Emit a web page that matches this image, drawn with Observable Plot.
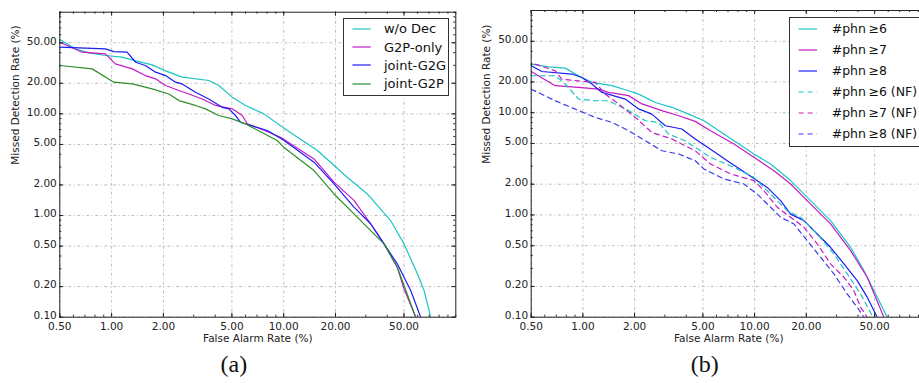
<!DOCTYPE html>
<html>
<head>
<meta charset="utf-8">
<script src="https://cdn.jsdelivr.net/npm/d3@7"></script>
<script src="https://cdn.jsdelivr.net/npm/@observablehq/plot@0.6"></script>
<style>
  html, body { margin: 0; padding: 0; background: #fff; }
  #wrap { position: relative; width: 919px; height: 383px; overflow: hidden; background: #fff; font-family: "DejaVu Sans", sans-serif; }
  .panel { position: absolute; top: 0; }
  .legend { position: absolute; background: #fff; border: 1px solid #333; box-sizing: border-box; color: #111; }
  .legend .row { position: absolute; left: 0; height: 20px; display: flex; align-items: center; white-space: nowrap; }
  .legend svg { position: absolute; top: 0; }
</style>
</head>
<body>
<div id="wrap"></div>
<script>
// ---------- tick values ----------
const xTicks = [0.5, 1, 2, 5, 10, 20, 50];
const yTicks = [0.1, 0.2, 0.5, 1, 2, 5, 10, 20, 50];

// ---------- panel (a) ----------
const seriesA = ["w/o Dec", "G2P-only", "joint-G2G", "joint-G2P"];
const woDecFA = [0.5, 0.617, 0.737, 0.922, 1.15, 1.44, 1.72, 2.06, 2.57, 3.67, 4.20, 5.02, 6.00, 7.67, 10.5, 15.7, 23.4, 30.6, 41.8, 50, 59.8, 65.4, 71.5];
const woDecMD = [53.8, 43.6, 39.8, 37.5, 36.1, 32.7, 30.3, 26.5, 23.0, 21.3, 19.0, 14.6, 12.1, 10.0, 6.86, 4.36, 2.38, 1.63, 0.893, 0.526, 0.267, 0.183, 0.1];
const g2pOnlyFA = [0.5, 0.674, 0.922, 1.05, 1.32, 1.57, 1.80, 2.06, 2.46, 2.81, 3.36, 4.02, 5.02, 5.74, 6.14, 7.67, 9.59, 15.0, 19.6, 25.6, 32.0, 38.3, 45.7, 50, 58.5];
const g2pOnlyMD = [50.7, 40.4, 38.9, 31.0, 27.7, 23.8, 22.1, 19.0, 17.0, 15.7, 14.0, 12.1, 11.2, 9.63, 8.0, 6.9, 5.89, 3.6, 2.13, 1.41, 0.83, 0.526, 0.31, 0.19, 0.1];
const jointG2GFA = [0.5, 0.922, 1.03, 1.23, 1.38, 1.57, 1.80, 2.06, 2.35, 2.57, 3.07, 3.67, 4.39, 4.80, 5.25, 5.61, 8.03, 10.0, 15.0, 19.6, 25.6, 32.0, 38.3, 45.7, 54.7, 62.5];
const jointG2GMD = [45.3, 43.6, 41.0, 40.4, 32.2, 29.9, 25.7, 23.8, 20.5, 19.7, 16.3, 14.0, 11.6, 11.2, 9.63, 8.28, 6.86, 5.5, 3.35, 2.05, 1.21, 0.83, 0.526, 0.335, 0.183, 0.1];
const jointG2PFA = [0.5, 0.771, 1.03, 1.32, 1.72, 2.15, 2.46, 3.07, 3.51, 4.20, 5.02, 6.00, 9.17, 10.0, 15.0, 19.6, 25.6, 32.0, 38.3, 45.7, 58.5];
const jointG2PMD = [29.9, 27.7, 20.5, 19.7, 17.6, 15.7, 13.5, 12.1, 11.2, 9.63, 8.93, 7.97, 5.47, 4.7, 2.77, 1.63, 1.04, 0.71, 0.526, 0.31, 0.1];

// ---------- panel (b) ----------
const seriesB = ["#phn\u2009\u22656", "#phn\u2009\u22657", "#phn\u2009\u22658", "#phn\u2009\u22656 (NF)", "#phn\u2009\u22657 (NF)", "#phn\u2009\u22658 (NF)"];
const phn6FA = [0.5, 0.631, 0.789, 0.943, 1.128, 1.475, 1.845, 2.11, 2.64, 3.30, 4.13, 5.07, 7.58, 9.91, 12.39, 16.21, 21.19, 27.70, 36.23, 43.31, 51.79, 59.22];
const phn6MD = [29.9, 28.1, 27.3, 23.0, 19.8, 18.4, 16.4, 15.2, 12.6, 11.3, 9.70, 8.35, 5.32, 3.95, 3.15, 2.17, 1.38, 0.88, 0.483, 0.286, 0.157, 0.1];
const phn7FA = [0.5, 0.690, 0.943, 1.234, 1.41, 1.845, 2.21, 2.885, 3.61, 4.51, 5.54, 7.58, 9.91, 12.96, 16.21, 20.26, 27.70, 36.23, 45.29, 56.63];
const phn7MD = [25.3, 18.4, 17.7, 17.0, 15.8, 14.7, 12.2, 10.5, 9.35, 8.23, 6.67, 4.94, 3.66, 2.71, 2.01, 1.38, 0.817, 0.448, 0.246, 0.1];
const phn8FA = [0.5, 0.577, 0.863, 0.986, 1.128, 1.29, 1.765, 2.11, 2.52, 3.02, 3.77, 4.51, 5.54, 6.93, 9.06, 11.85, 14.17, 16.21, 19.38, 23.17, 27.70, 33.13, 39.61, 45.29, 51.79];
const phn8MD = [28.8, 25.3, 23.9, 22.1, 19.1, 15.8, 13.6, 10.9, 9.70, 7.46, 6.93, 5.53, 4.4, 3.40, 2.52, 1.86, 1.38, 1.02, 0.88, 0.652, 0.483, 0.332, 0.228, 0.157, 0.1];
const phn6nfFA = [0.5, 0.690, 0.789, 0.943, 1.18, 1.41, 1.845, 2.31, 2.76, 3.155, 3.94, 4.51, 5.54, 7.58, 9.91, 12.39, 15.50, 18.53, 23.17, 28.97, 34.64, 41.42, 48.9];
const phn6nfMD = [23.0, 23.0, 19.1, 13.6, 13.1, 13.1, 10.5, 8.35, 8.05, 6.19, 5.32, 4.58, 3.66, 2.92, 2.33, 1.60, 1.10, 0.949, 0.652, 0.416, 0.265, 0.169, 0.1];
const phn7nfFA = [0.527, 0.690, 0.754, 0.943, 1.18, 1.35, 1.61, 2.02, 2.52, 3.30, 3.94, 4.51, 5.54, 7.25, 9.91, 11.33, 13.55, 16.21, 19.38, 23.17, 27.70, 33.13, 37.88, 41.42, 45.29];
const phn7nfMD = [29.9, 25.7, 21.3, 20.5, 19.8, 15.2, 12.2, 9.00, 6.42, 5.53, 4.76, 4.25, 3.15, 2.52, 2.17, 1.73, 1.19, 0.949, 0.758, 0.521, 0.332, 0.246, 0.182, 0.125, 0.1];
const phn8nfFA = [0.5, 0.690, 0.943, 1.18, 1.475, 1.845, 2.31, 2.885, 3.61, 4.51, 5.07, 6.63, 8.67, 10.36, 12.39, 14.17, 16.95, 20.26, 24.23, 28.97, 34.64, 39.61, 43.31];
const phn8nfMD = [17.0, 13.1, 10.5, 9.00, 8.05, 6.67, 5.32, 4.25, 3.95, 3.40, 2.82, 2.25, 2.01, 1.60, 1.19, 0.949, 0.817, 0.561, 0.386, 0.265, 0.169, 0.125, 0.1];

// ---------- styles ----------
const colorsA = ["#1cc4c4", "#c41cc4", "#1c1cf4", "#2a8f2a"];
const colorsB = ["#1cc4c4", "#c41cc4", "#1c1cf4", "#1cc4c4", "#c41cc4", "#3a3af0"];
const dashedB = [false, false, false, true, true, true];

function rowsOf(names, fas, mds) {
  return names.flatMap((name, i) => fas[i].map((fa, j) => ({series: name, fa, md: mds[i][j]})));
}
const rowsA = rowsOf(seriesA, [woDecFA, g2pOnlyFA, jointG2GFA, jointG2PFA], [woDecMD, g2pOnlyMD, jointG2GMD, jointG2PMD]);
const rowsB = rowsOf(seriesB, [phn6FA, phn7FA, phn8FA, phn6nfFA, phn7nfFA, phn8nfFA], [phn6MD, phn7MD, phn8MD, phn6nfMD, phn7nfMD, phn8nfMD]);

const minorAll = [];
for (let e = -1; e <= 2; e++) for (let k = 1; k <= 9; k++) minorAll.push(+(k * Math.pow(10, e)).toPrecision(3));
const xMinor = minorAll.filter(v => v >= 0.5 && v <= 100);
const yMinor = minorAll.filter(v => v >= 0.1 && v <= 100);
const fmt = d3.format(".2f");

function panelPlot({rows, names, colors, dashedNames, width, marginLeft, marginRight, marginTop, ylabelDx, caption, captionDx}) {
  const height = 383, marginBottom = 66.3;
  const innerW = width - marginLeft - marginRight;
  const innerH = height - marginTop - marginBottom;
  const solid = rows.filter(r => !dashedNames.includes(r.series));
  const dashed = rows.filter(r => dashedNames.includes(r.series));
  const tc = "#222";
  const gridStyle = {stroke: "#bdbdbd", strokeOpacity: 1, strokeWidth: 1, strokeDasharray: "3,2.5,1,2.5"};
  return Plot.plot({
    width, height, marginLeft, marginRight, marginTop, marginBottom,
    x: {type: "log", domain: [0.5, 100], axis: null},
    y: {type: "log", domain: [0.1, 100], axis: null},
    color: {domain: names, range: colors},
    style: {fontFamily: "'DejaVu Sans', sans-serif", fontSize: "10.5px", color: "#222", background: "transparent"},
    marks: [
      Plot.ruleX(xTicks, {x: d => d, ...gridStyle}),
      Plot.ruleY(yTicks, {y: d => d, ...gridStyle}),
      Plot.line(solid, {x: "fa", y: "md", z: "series", stroke: "series", strokeWidth: 1.2, clip: true}),
      Plot.line(dashed, {x: "fa", y: "md", z: "series", stroke: "series", strokeWidth: 1.2, strokeDasharray: "5,4", clip: true}),
      // inward ticks (minor + major) on all four sides
      Plot.ruleX(xMinor, {x: d => d, insetTop: innerH - 2, stroke: tc}),
      Plot.ruleX(xMinor, {x: d => d, insetBottom: innerH - 2, stroke: tc}),
      Plot.ruleX(xTicks, {x: d => d, insetTop: innerH - 4, stroke: tc}),
      Plot.ruleX(xTicks, {x: d => d, insetBottom: innerH - 4, stroke: tc}),
      Plot.ruleY(yMinor, {y: d => d, insetRight: innerW - 2, stroke: tc}),
      Plot.ruleY(yMinor, {y: d => d, insetLeft: innerW - 2, stroke: tc}),
      Plot.ruleY(yTicks, {y: d => d, insetRight: innerW - 4, stroke: tc}),
      Plot.ruleY(yTicks, {y: d => d, insetLeft: innerW - 4, stroke: tc}),
      Plot.frame({stroke: "#222", strokeWidth: 1}),
      // tick labels
      Plot.text(xTicks, {x: d => d, text: d => fmt(d), frameAnchor: "bottom", lineAnchor: "top", dy: 5, fontSize: 10.5, fill: "#222"}),
      Plot.text(yTicks, {y: d => d, text: d => fmt(d), frameAnchor: "left", textAnchor: "end", dx: -3, dy: -1.5, fontSize: 10.5, fill: "#222"}),
      // axis titles
      Plot.text(["False Alarm Rate (%)"], {text: d => d, frameAnchor: "bottom", dy: 25, fontSize: 10.5, fill: "#222"}),
      Plot.text(["Missed Detection Rate (%)"], {text: d => d, frameAnchor: "left", rotate: -90, dx: ylabelDx, fontSize: 10.5, fill: "#222"}),
      Plot.text([caption], {text: d => d, frameAnchor: "bottom", dy: 55, dx: captionDx, fontSize: 24, fontFamily: "'Liberation Serif', serif", fill: "#111"})
    ]
  });
}

function legend(parent, {left, top, width, height, names, colors, dashed, rowStart, rowGap, swX, swW, textX, fontSize}) {
  const box = document.createElement("div");
  box.className = "legend";
  Object.assign(box.style, {left: left + "px", top: top + "px", width: width + "px", height: height + "px", fontSize: fontSize + "px"});
  names.forEach((name, i) => {
    const cy = rowStart + i * rowGap;
    const row = document.createElement("div");
    row.className = "row";
    row.style.top = (cy - 10) + "px";
    row.style.width = width + "px";
    const svg = document.createElementNS("http://www.w3.org/2000/svg", "svg");
    svg.setAttribute("width", swX + swW + 2);
    svg.setAttribute("height", 20);
    const ln = document.createElementNS("http://www.w3.org/2000/svg", "line");
    ln.setAttribute("x1", swX); ln.setAttribute("x2", swX + swW);
    ln.setAttribute("y1", 10); ln.setAttribute("y2", 10);
    ln.setAttribute("stroke", colors[i]); ln.setAttribute("stroke-width", 1.2);
    if (dashed[i]) ln.setAttribute("stroke-dasharray", "5,4");
    svg.appendChild(ln);
    row.appendChild(svg);
    const t = document.createElement("span");
    t.textContent = name;
    t.style.position = "absolute";
    t.style.left = textX + "px";
    row.appendChild(t);
    box.appendChild(row);
  });
  parent.appendChild(box);
}

const wrap = document.getElementById("wrap");

const pa = panelPlot({rows: rowsA, names: seriesA, colors: colorsA, dashedNames: [], width: 460, marginLeft: 59.3, marginRight: 4.7, marginTop: 11.7, ylabelDx: -44, caption: "(a)", captionDx: -24});
pa.classList.add("panel"); pa.style.left = "0px";
wrap.appendChild(pa);

const pb = panelPlot({rows: rowsB, names: seriesB, colors: colorsB, dashedNames: seriesB.filter((_, i) => dashedB[i]), width: 475, marginLeft: 71.7, marginRight: 8.2, marginTop: 10, ylabelDx: -45, caption: "(b)", captionDx: -24});
pb.classList.add("panel"); pb.style.left = "459px";
wrap.appendChild(pb);

legend(wrap, {left: 343.3, top: 17.7, width: 106, height: 78, names: seriesA, colors: colorsA, dashed: [false, false, false, false], rowStart: 10, rowGap: 18.4, swX: 8.4, swW: 18.3, textX: 39.7, fontSize: 13});
legend(wrap, {left: 788.7, top: 16.7, width: 150, height: 130.3, names: seriesB, colors: colorsB, dashed: dashedB, rowStart: 11.3, rowGap: 21, swX: 8.6, swW: 18.4, textX: 42, fontSize: 12.5});
</script>
</body>
</html>
